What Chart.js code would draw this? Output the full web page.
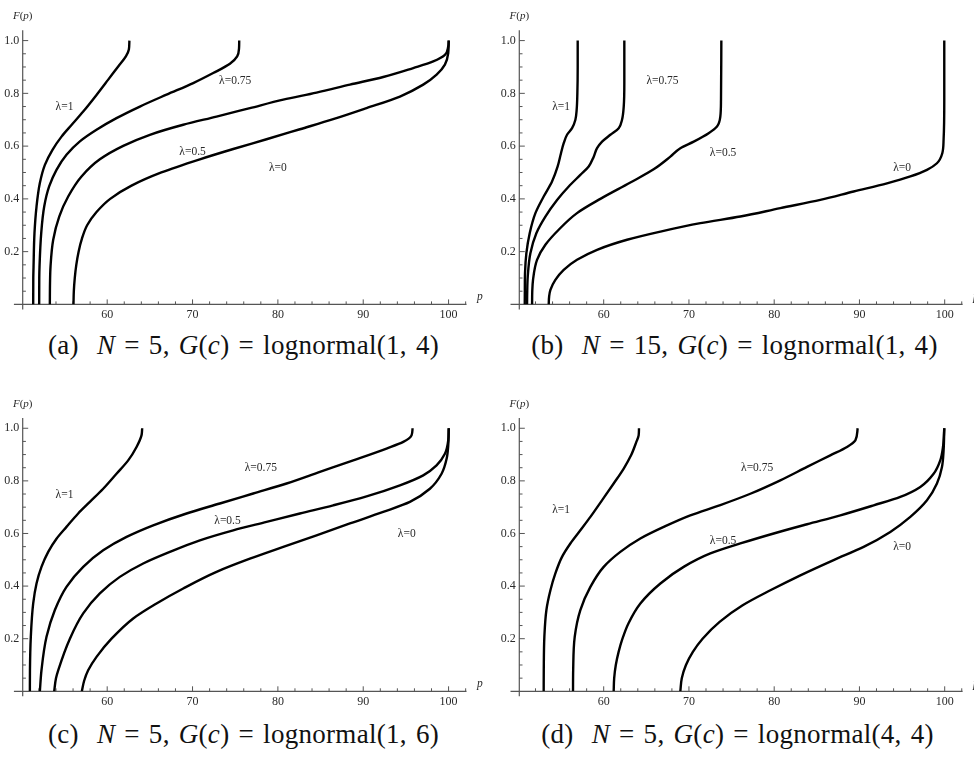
<!DOCTYPE html>
<html><head><meta charset="utf-8">
<script src="https://cdn.jsdelivr.net/npm/chart.js@4.4.1/dist/chart.umd.min.js"></script>
<style>
html,body{margin:0;padding:0;background:#fff;}
body{width:974px;height:757px;position:relative;overflow:hidden;}
.panel{position:absolute;width:487px;height:330px;}
.cap{position:absolute;width:487px;text-align:center;font-family:"Liberation Serif",serif;font-size:27px;color:#111;letter-spacing:0.3px;word-spacing:2px;white-space:pre;line-height:27px;}
</style></head><body>
<div class="panel" style="left:0;top:0"><canvas id="ca" width="487" height="330"></canvas></div>
<div class="panel" style="left:487px;top:0"><canvas id="cb" width="487" height="330"></canvas></div>
<div class="panel" style="left:0;top:388px"><canvas id="cc" width="487" height="330"></canvas></div>
<div class="panel" style="left:487px;top:388px"><canvas id="cd" width="487" height="330"></canvas></div>
<div class="cap" style="left:0;top:332px">(a)  <i>N</i> = 5, <i>G</i>(<i>c</i>) = lognormal(1, 4)</div>
<div class="cap" style="left:491px;top:332px">(b)  <i>N</i> = 15, <i>G</i>(<i>c</i>) = lognormal(1, 4)</div>
<div class="cap" style="left:0;top:721px">(c)  <i>N</i> = 5, <i>G</i>(<i>c</i>) = lognormal(1, 6)</div>
<div class="cap" style="left:494px;top:721px">(d)  <i>N</i> = 5, <i>G</i>(<i>c</i>) = lognormal(4, 4)</div>
<script>
// ---- data: [p, F(p)] pairs ----
const LAMBDAS = ["λ=1", "λ=0.75", "λ=0.5", "λ=0"];

// (a) N=5, lognormal(1,4)
const A_L1  = [[51.33,0],[51.34,0.1],[51.37,0.143],[51.48,0.27],[51.72,0.371],[52.11,0.46],[52.7,0.529],[53.59,0.586],[54.65,0.636],[55.82,0.68],[57.19,0.731],[58.75,0.794],[60.12,0.852],[61.29,0.902],[62.19,0.94],[62.54,0.966],[62.6,1.0]];
const A_L75 = [[52.03,0],[52.04,0.1],[52.07,0.143],[52.27,0.27],[52.62,0.371],[53.2,0.447],[54.06,0.51],[55.23,0.567],[56.8,0.618],[58.75,0.662],[61.09,0.706],[63.83,0.75],[66.95,0.795],[70.08,0.839],[72.42,0.877],[74.38,0.912],[75.23,0.94],[75.45,0.972],[75.47,1.0]];
const A_L5  = [[53.28,0],[53.3,0.08],[53.36,0.143],[53.67,0.244],[54.38,0.333],[55.43,0.409],[56.99,0.485],[59.14,0.55],[61.88,0.601],[65.0,0.643],[68.91,0.681],[72.81,0.712],[76.72,0.744],[80.63,0.776],[84.53,0.803],[88.44,0.833],[92.34,0.862],[95.86,0.896],[98.2,0.921],[99.57,0.946],[99.96,0.978],[100.02,1.0]];
const A_L0  = [[56.05,0],[56.09,0.05],[56.2,0.1],[56.38,0.15],[56.65,0.2],[57.05,0.25],[57.65,0.3],[58.75,0.35],[60.35,0.4],[62.85,0.45],[66.35,0.5],[70.86,0.55],[74.77,0.589],[78.67,0.626],[82.58,0.664],[86.48,0.702],[90.39,0.744],[94.3,0.788],[97.03,0.833],[98.6,0.871],[99.57,0.909],[99.96,0.953],[100.02,1.0]];
const A_LABELS = [[55.0,0.747],[75.0,0.847],[70.0,0.579],[80.0,0.516]];

// (b) N=15, lognormal(1,4)
const B_L1  = [[50.74,0],[50.75,0.06],[50.77,0.118],[50.93,0.194],[51.32,0.27],[51.99,0.346],[52.96,0.409],[53.94,0.466],[54.6,0.523],[54.99,0.573],[55.31,0.611],[55.7,0.643],[56.29,0.668],[56.68,0.7],[56.83,0.738],[56.91,0.8],[56.95,0.9],[56.95,1.0]];
const B_L75 = [[51.01,0],[51.03,0.05],[51.09,0.105],[51.4,0.194],[52.1,0.27],[53.16,0.333],[54.53,0.396],[55.9,0.447],[57.26,0.491],[58.24,0.523],[58.83,0.56],[59.22,0.592],[59.81,0.617],[60.78,0.643],[61.76,0.668],[62.15,0.7],[62.35,0.75],[62.42,0.84],[62.42,1.0]];
const B_L5  = [[51.6,0],[51.62,0.05],[51.71,0.093],[52.18,0.169],[53.16,0.226],[54.72,0.283],[56.87,0.346],[59.61,0.4],[63.13,0.462],[65.86,0.512],[67.82,0.56],[68.99,0.592],[70.56,0.617],[72.31,0.649],[73.29,0.674],[73.68,0.712],[73.76,0.776],[73.8,1.0]];
const B_L0  = [[53.55,0],[53.6,0.03],[53.75,0.055],[54.33,0.093],[55.31,0.131],[56.87,0.169],[59.22,0.207],[62.74,0.245],[66.65,0.276],[71.34,0.308],[76.03,0.333],[80.72,0.365],[85.41,0.396],[89.32,0.428],[93.23,0.459],[95.97,0.485],[97.92,0.51],[99.09,0.535],[99.72,0.573],[99.87,0.624],[99.95,0.776],[99.95,1.0]];
const B_LABELS = [[55.0,0.747],[66.9,0.847],[74.0,0.575],[95.0,0.516]];

// (c) N=5, lognormal(1,6)
const C_L1  = [[50.94,0],[50.95,0.08],[51.05,0.207],[51.33,0.334],[51.72,0.41],[52.3,0.473],[53.09,0.53],[54.06,0.58],[55.23,0.625],[56.6,0.676],[57.97,0.72],[59.53,0.77],[61.09,0.827],[62.46,0.878],[63.44,0.929],[64.02,0.973],[64.1,1.0]];
const C_L75 = [[52.11,0],[52.3,0.08],[52.89,0.207],[53.87,0.309],[55.23,0.397],[57.19,0.473],[59.53,0.536],[62.27,0.587],[65.39,0.631],[69.3,0.676],[73.2,0.714],[77.11,0.752],[81.02,0.79],[84.92,0.834],[88.83,0.878],[92.73,0.923],[94.69,0.948],[95.66,0.973],[95.78,1.0]];
const C_L5  = [[53.79,0],[54.0,0.05],[54.26,0.08],[55.63,0.2],[57.19,0.296],[59.14,0.372],[61.48,0.435],[64.22,0.486],[67.34,0.53],[70.86,0.574],[74.77,0.612],[78.67,0.644],[82.58,0.676],[86.48,0.707],[90.39,0.741],[94.3,0.783],[97.03,0.821],[98.59,0.859],[99.57,0.903],[99.96,0.954],[100.02,1.0]];
const C_L0  = [[57.03,0],[57.3,0.04],[57.77,0.08],[58.75,0.131],[60.51,0.2],[63.05,0.277],[65.78,0.334],[68.91,0.391],[72.81,0.454],[76.72,0.504],[80.63,0.549],[84.53,0.593],[88.44,0.638],[92.34,0.682],[95.47,0.72],[97.81,0.77],[99.18,0.827],[99.77,0.884],[99.96,0.935],[100.02,1.0]];
const C_LABELS = [[55.0,0.748],[78.0,0.849],[74.1,0.648],[95.1,0.597]];

// (d) N=5, lognormal(4,4)
const D_L1  = [[52.96,0],[52.97,0.08],[53.04,0.207],[53.28,0.309],[53.75,0.384],[54.33,0.448],[55.11,0.511],[56.09,0.562],[57.26,0.612],[58.44,0.663],[59.8,0.726],[61.17,0.79],[62.35,0.847],[63.21,0.897],[63.83,0.948],[64.1,0.973],[64.14,1.0]];
const D_L75 = [[56.4,0],[56.42,0.08],[56.6,0.207],[57.26,0.309],[58.44,0.397],[60.0,0.473],[61.95,0.53],[64.3,0.581],[67.04,0.625],[70.16,0.669],[73.68,0.708],[77.2,0.751],[80.72,0.802],[83.85,0.853],[86.58,0.897],[88.54,0.929],[89.52,0.954],[89.79,1.0]];
const D_L5  = [[61.17,0],[61.23,0.05],[61.42,0.1],[61.75,0.15],[62.2,0.2],[62.9,0.258],[64.3,0.334],[66.65,0.41],[69.38,0.473],[72.51,0.524],[76.03,0.562],[79.94,0.6],[83.85,0.635],[87.76,0.669],[91.67,0.707],[94.79,0.739],[97.14,0.777],[98.7,0.827],[99.48,0.878],[99.8,0.929],[99.95,1.0]];
const D_L0  = [[68.99,0],[69.16,0.05],[69.65,0.1],[70.46,0.15],[71.6,0.2],[73.6,0.264],[76.3,0.327],[79.55,0.384],[83.07,0.441],[86.97,0.499],[90.49,0.549],[93.62,0.606],[95.97,0.663],[97.92,0.726],[99.09,0.79],[99.68,0.853],[99.87,0.916],[99.95,1.0]];
const D_LABELS = [[55.0,0.689],[78.0,0.849],[74.0,0.571],[95.0,0.55]];

// ---- axes / ticks ----
const X_TICKS = [60, 70, 80, 90, 100];
const X_MINOR = [52, 54, 56, 58, 62, 64, 66, 68, 72, 74, 76, 78, 82, 84, 86, 88, 92, 94, 96, 98, 102];
const Y_TICKS = [0.2, 0.4, 0.6, 0.8, 1.0];
const Y_MINOR = [0.05, 0.1, 0.15, 0.25, 0.3, 0.35, 0.45, 0.5, 0.55, 0.65, 0.7, 0.75, 0.85, 0.9, 0.95];
const X_MIN = 50.1, X_MAX = 102.1, Y_MAX = 1.039;
const X_AXIS_FROM = 49.07, Y_AXIS_FROM = -0.019;

const AXIS_COLOR = '#555';
const TEXT_COLOR = '#2a2a2a';
const SERIF = '"Liberation Serif", "Times New Roman", serif';

const mmaAxes = {
  id: 'mmaAxes',
  beforeDatasetsDraw(chart) {
    const {ctx, chartArea} = chart;
    const xs = chart.scales.x, ys = chart.scales.y;
    const x0 = xs.getPixelForValue(X_MIN);
    const y0 = ys.getPixelForValue(0);
    ctx.save();
    ctx.strokeStyle = AXIS_COLOR;
    ctx.lineWidth = 1.2;
    const seg = (a, b, c, d) => { ctx.beginPath(); ctx.moveTo(a, b); ctx.lineTo(c, d); ctx.stroke(); };
    seg(xs.getPixelForValue(X_AXIS_FROM), y0, chartArea.right, y0);
    seg(x0, ys.getPixelForValue(Y_AXIS_FROM), x0, chartArea.top);
    ctx.lineWidth = 1;
    X_TICKS.forEach(v => { const p = xs.getPixelForValue(v); seg(p, y0, p, y0 - 5); });
    X_MINOR.forEach(v => { const p = xs.getPixelForValue(v); seg(p, y0, p, y0 - 3); });
    Y_TICKS.forEach(v => { const p = ys.getPixelForValue(v); seg(x0, p, x0 + 5.5, p); });
    Y_MINOR.forEach(v => { const p = ys.getPixelForValue(v); seg(x0, p, x0 + 3.2, p); });
    ctx.restore();
  },
  afterDatasetsDraw(chart, args, opts) {
    const {ctx, chartArea} = chart;
    const xs = chart.scales.x, ys = chart.scales.y;
    const x0 = xs.getPixelForValue(X_MIN);
    const y0 = ys.getPixelForValue(0);
    ctx.save();
    ctx.fillStyle = TEXT_COLOR;
    ctx.textBaseline = 'middle';
    ctx.textAlign = 'center';
    ctx.font = '11.5px ' + SERIF;
    (opts.labels || []).forEach((pt, i) => {
      ctx.fillText(LAMBDAS[i], xs.getPixelForValue(pt[0]), ys.getPixelForValue(pt[1]));
    });
    // F(p) axis label
    ctx.textBaseline = 'alphabetic';
    ctx.textAlign = 'left';
    const parts = [['F', true], ['(', false], ['p', true], [')', false]];
    const fontOf = it => (it ? 'italic ' : '') + '11px ' + SERIF;
    let total = 0;
    parts.forEach(([t, it]) => { ctx.font = fontOf(it); total += ctx.measureText(t).width; });
    let cx = x0 - total / 2;
    const by = chartArea.top - 11;
    parts.forEach(([t, it]) => { ctx.font = fontOf(it); ctx.fillText(t, cx, by); cx += ctx.measureText(t).width; });
    // p axis label
    ctx.font = 'italic 11.5px ' + SERIF;
    ctx.fillText('p', chartArea.right + 10.5, y0 - 4);
    ctx.restore();
  }
};

function makeChart(id, curves, labels, pad) {
  const datasets = curves.map(c => ({
    data: c.map(([p, f]) => ({x: p, y: f})),
    borderColor: '#000',
    borderWidth: 2.4,
    pointRadius: 0,
    fill: false,
    cubicInterpolationMode: 'monotone'
  }));
  return new Chart(document.getElementById(id), {
    type: 'line',
    data: {datasets},
    options: {
      indexAxis: 'y',
      responsive: false,
      animation: false,
      devicePixelRatio: 1,
      layout: {padding: pad},
      plugins: {legend: {display: false}, tooltip: {enabled: false}, mmaAxes: {labels}},
      scales: {
        x: {
          type: 'linear', min: X_MIN, max: X_MAX, position: 'bottom',
          grid: {display: false, drawTicks: false}, border: {display: false},
          ticks: {font: {family: SERIF, size: 12}, color: TEXT_COLOR, padding: 3.5, maxRotation: 0, autoSkip: false, callback: v => String(v)},
          afterBuildTicks: s => { s.ticks = X_TICKS.map(v => ({value: v})); },
          afterFit: s => { s.height = 20; s.paddingLeft = 0; s.paddingRight = 0; }
        },
        y: {
          type: 'linear', min: 0, max: Y_MAX, position: 'left',
          grid: {display: false, drawTicks: false}, border: {display: false},
          ticks: {font: {family: SERIF, size: 12}, color: TEXT_COLOR, padding: 3.5, autoSkip: false, callback: v => v.toFixed(1)},
          afterBuildTicks: s => { s.ticks = Y_TICKS.map(v => ({value: v})); },
          afterFit: s => { s.width = 22.7; s.paddingTop = 0; s.paddingBottom = 0; }
        }
      }
    },
    plugins: [mmaAxes]
  });
}

makeChart('ca', [A_L1, A_L75, A_L5, A_L0], A_LABELS, {left: 0, top: 30.3, right: 20.5, bottom: 5.6});
makeChart('cb', [B_L1, B_L75, B_L5, B_L0], B_LABELS, {left: 9.6, top: 30.3, right: 11.4, bottom: 5.6});
makeChart('cc', [C_L1, C_L75, C_L5, C_L0], C_LABELS, {left: 0, top: 30.0, right: 20.5, bottom: 6.7});
makeChart('cd', [D_L1, D_L75, D_L5, D_L0], D_LABELS, {left: 9.6, top: 30.0, right: 11.4, bottom: 6.7});
</script>
</body></html>
